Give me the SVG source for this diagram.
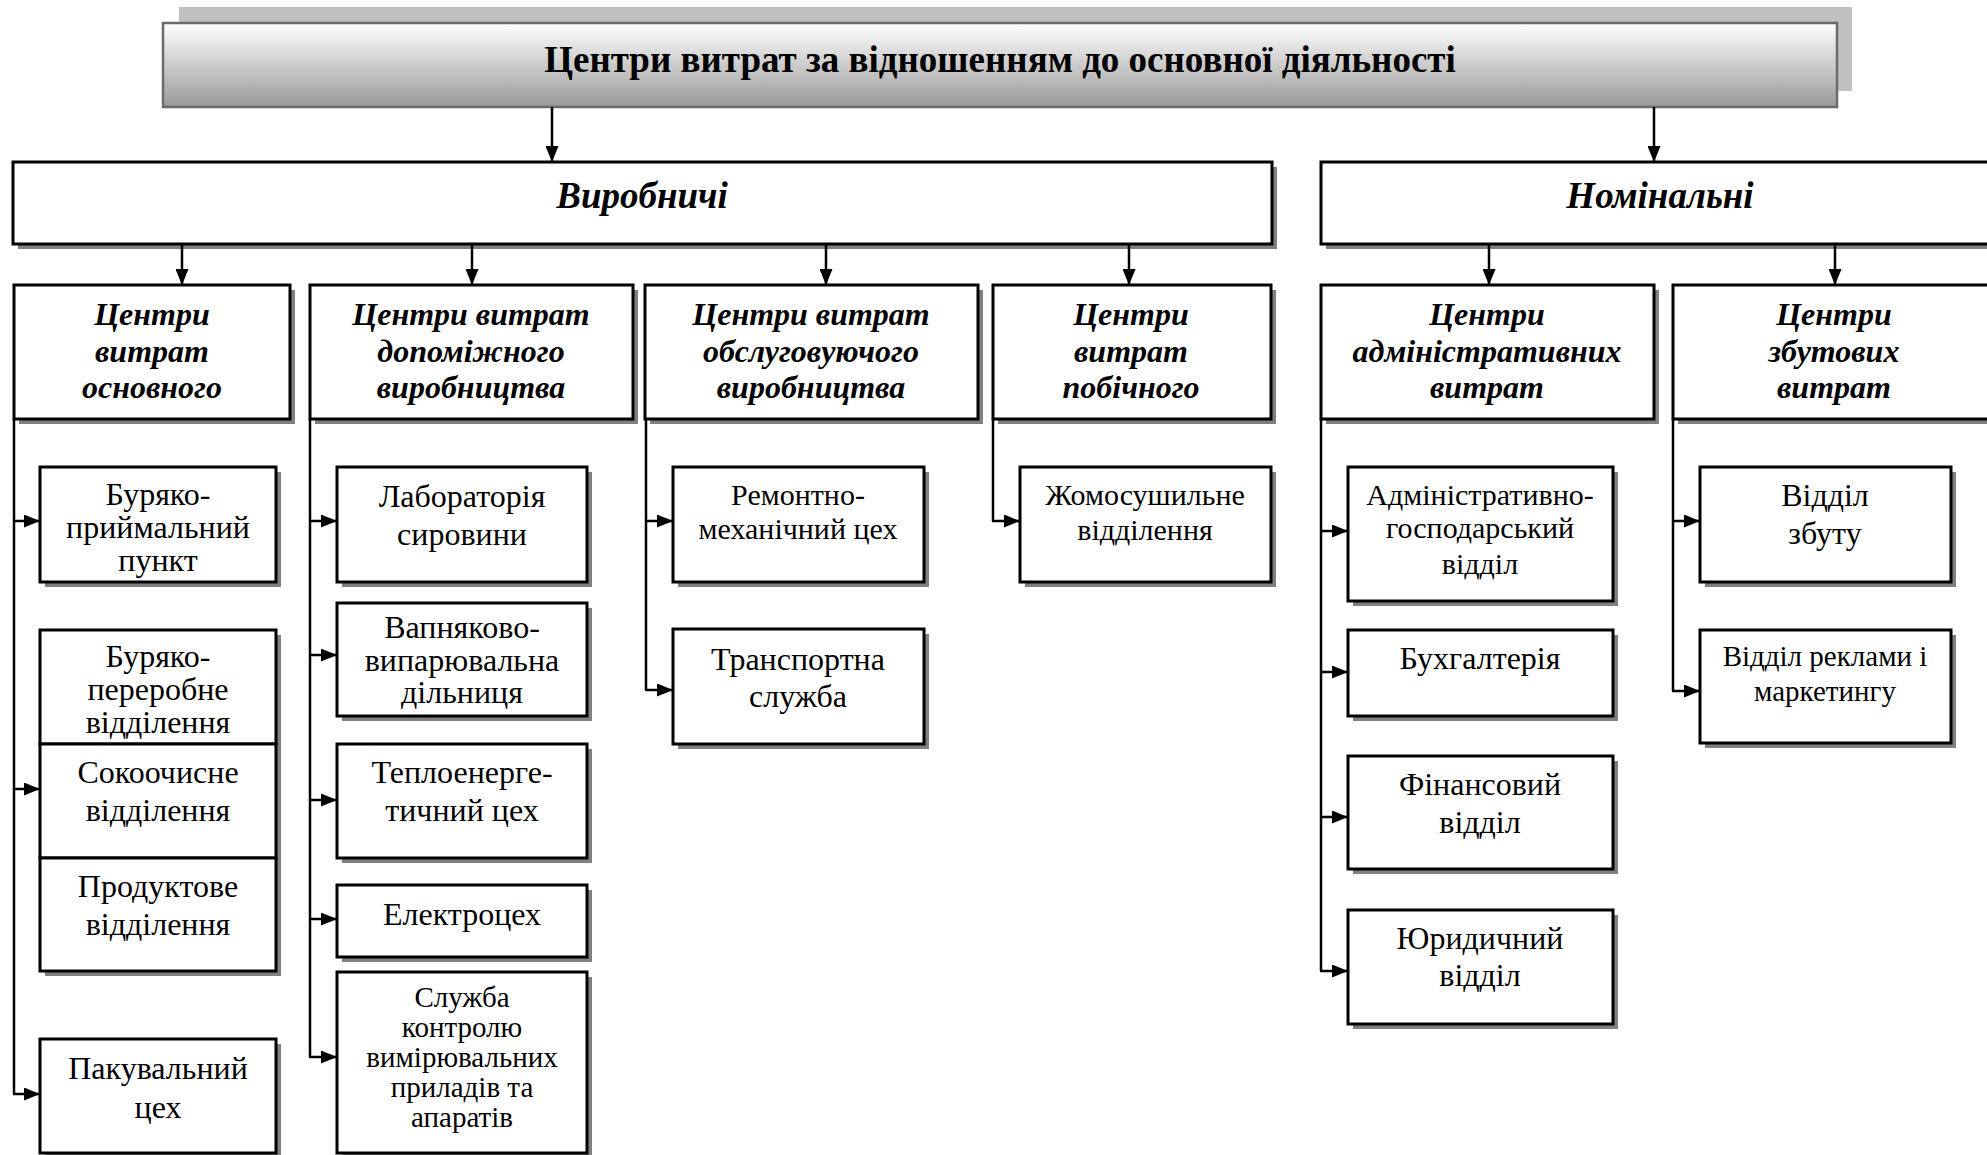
<svg xmlns="http://www.w3.org/2000/svg" width="1987" height="1155" viewBox="0 0 1987 1155">
<style>
.sh{fill:#808080}
.bx{fill:#fff;stroke:#000;stroke-width:3}
.ln{fill:none;stroke:#000;stroke-width:2.5}
.ar{fill:none;stroke:#000;stroke-width:2.5;marker-end:url(#ah)}
text{font-family:"Liberation Serif","Times New Roman",serif;text-anchor:middle;fill:#000}
.t0{font-size:37px;font-weight:bold}
.t1{font-size:37px;font-weight:bold;font-style:italic}
.t2{font-size:32px;font-weight:bold;font-style:italic}
.l{font-size:32px}
.s{font-size:30px}
.xs{font-size:29px}
</style>
<defs>
<linearGradient id="g" x1="0" y1="0" x2="0" y2="1">
<stop offset="0" stop-color="#ffffff"/>
<stop offset="1" stop-color="#999999"/>
</linearGradient>
<marker id="ah" markerUnits="userSpaceOnUse" markerWidth="16" markerHeight="13" refX="16" refY="6.5" orient="auto">
<path d="M0,0 L16,6.5 L0,13 z" fill="#000"/>
</marker>
</defs>
<rect width="1987" height="1155" fill="#fff"/>

<g id="title">
<rect x="179" y="7" width="1673" height="84" fill="#c0c0c0"/>
<rect x="163" y="23" width="1674" height="84" fill="url(#g)" stroke="#6b6b6b" stroke-width="2.5"/>
<text class="t0" x="1000" y="72">Центри витрат за відношенням до основної діяльності</text>
</g>

<g id="vyrobnychi">
<rect class="sh" x="18" y="167" width="1259" height="82"/>
<rect class="bx" x="13" y="162" width="1259" height="82"/>
<text class="t1" x="642" y="208">Виробничі</text>
</g>
<g id="nominalni">
<rect class="sh" x="1326" y="167" width="680" height="82"/>
<rect class="bx" x="1321" y="162" width="680" height="82"/>
<text class="t1" x="1660" y="208">Номінальні</text>
</g>

<g id="c1">
<rect class="sh" x="19" y="290" width="276" height="134"/>
<rect class="bx" x="14" y="285" width="276" height="134"/>
<text class="t2" x="152"><tspan x="152" y="325">Центри</tspan><tspan x="152" y="362">витрат</tspan><tspan x="152" y="398">основного</tspan></text>
</g>
<g id="c2">
<rect class="sh" x="315" y="290" width="323" height="134"/>
<rect class="bx" x="310" y="285" width="323" height="134"/>
<text class="t2" x="471"><tspan x="471" y="325">Центри витрат</tspan><tspan x="471" y="362">допоміжного</tspan><tspan x="471" y="398">виробництва</tspan></text>
</g>
<g id="c3">
<rect class="sh" x="650" y="290" width="333" height="134"/>
<rect class="bx" x="645" y="285" width="333" height="134"/>
<text class="t2" x="811"><tspan x="811" y="325">Центри витрат</tspan><tspan x="811" y="362">обслуговуючого</tspan><tspan x="811" y="398">виробництва</tspan></text>
</g>
<g id="c4">
<rect class="sh" x="998" y="290" width="278" height="134"/>
<rect class="bx" x="993" y="285" width="278" height="134"/>
<text class="t2" x="1131"><tspan x="1131" y="325">Центри</tspan><tspan x="1131" y="362">витрат</tspan><tspan x="1131" y="398">побічного</tspan></text>
</g>
<g id="c5">
<rect class="sh" x="1326" y="290" width="333" height="134"/>
<rect class="bx" x="1321" y="285" width="333" height="134"/>
<text class="t2" x="1487"><tspan x="1487" y="325">Центри</tspan><tspan x="1487" y="362">адміністративних</tspan><tspan x="1487" y="398">витрат</tspan></text>
</g>
<g id="c6">
<rect class="sh" x="1678" y="290" width="330" height="134"/>
<rect class="bx" x="1673" y="285" width="330" height="134"/>
<text class="t2" x="1834"><tspan x="1834" y="325">Центри</tspan><tspan x="1834" y="362">збутових</tspan><tspan x="1834" y="398">витрат</tspan></text>
</g>

<g id="col1">
<g id="n-buriako-pryimalnyi">
<rect class="sh" x="45" y="472" width="236" height="115"/>
<rect class="bx" x="40" y="467" width="236" height="115"/>
<text class="l"><tspan x="158" y="505">Буряко-</tspan><tspan x="158" y="538">приймальний</tspan><tspan x="158" y="571">пункт</tspan></text>
</g>
<g id="n-stack">
<rect class="sh" x="45" y="635" width="236" height="341"/>
<g id="n-buriako-pererobne">
<rect class="bx" x="40" y="630" width="236" height="114"/>
<text class="l"><tspan x="158" y="667">Буряко-</tspan><tspan x="158" y="700">переробне</tspan><tspan x="158" y="733">відділення</tspan></text>
</g>
<g id="n-sokoochysne">
<rect class="bx" x="40" y="744" width="236" height="114"/>
<text class="l"><tspan x="158" y="783">Сокоочисне</tspan><tspan x="158" y="821">відділення</tspan></text>
</g>
<g id="n-produktove">
<rect class="bx" x="40" y="858" width="236" height="113"/>
<text class="l"><tspan x="158" y="897">Продуктове</tspan><tspan x="158" y="935">відділення</tspan></text>
</g>
</g>
<g id="n-pakuvalnyi">
<rect class="sh" x="45" y="1044" width="236" height="115"/>
<rect class="bx" x="40" y="1039" width="236" height="114"/>
<text class="l"><tspan x="158" y="1079">Пакувальний</tspan><tspan x="158" y="1118">цех</tspan></text>
</g>
</g>

<g id="col2">
<g id="n-laboratoriia">
<rect class="sh" x="342" y="472" width="250" height="115"/>
<rect class="bx" x="337" y="467" width="250" height="115"/>
<text class="l"><tspan x="462" y="507">Лабораторія</tspan><tspan x="462" y="545">сировини</tspan></text>
</g>
<g id="n-vapniakovo">
<rect class="sh" x="342" y="608" width="250" height="113"/>
<rect class="bx" x="337" y="603" width="250" height="113"/>
<text class="l"><tspan x="462" y="638">Вапняково-</tspan><tspan x="462" y="671">випарювальна</tspan><tspan x="462" y="703">дільниця</tspan></text>
</g>
<g id="n-teploenerg">
<rect class="sh" x="342" y="749" width="250" height="114"/>
<rect class="bx" x="337" y="744" width="250" height="114"/>
<text class="l"><tspan x="462" y="783">Теплоенерге-</tspan><tspan x="462" y="821">тичний цех</tspan></text>
</g>
<g id="n-electro">
<rect class="sh" x="342" y="890" width="250" height="72"/>
<rect class="bx" x="337" y="885" width="250" height="72"/>
<text class="l" x="462" y="925">Електроцех</text>
</g>
<g id="n-sluzhba">
<rect class="sh" x="342" y="977" width="250" height="185"/>
<rect class="bx" x="337" y="972" width="250" height="181"/>
<text class="xs"><tspan x="462" y="1007">Служба</tspan><tspan x="462" y="1037">контролю</tspan><tspan x="462" y="1067">вимірювальних</tspan><tspan x="462" y="1097">приладів та</tspan><tspan x="462" y="1127">апаратів</tspan></text>
</g>
</g>

<g id="col3">
<g id="n-remontno">
<rect class="sh" x="678" y="472" width="251" height="115"/>
<rect class="bx" x="673" y="467" width="251" height="115"/>
<text class="s"><tspan x="798" y="505">Ремонтно-</tspan><tspan x="798" y="539">механічний цех</tspan></text>
</g>
<g id="n-transport">
<rect class="sh" x="678" y="634" width="251" height="115"/>
<rect class="bx" x="673" y="629" width="251" height="115"/>
<text class="l"><tspan x="798" y="670">Транспортна</tspan><tspan x="798" y="707">служба</tspan></text>
</g>
</g>

<g id="col4">
<g id="n-zhomo">
<rect class="sh" x="1025" y="472" width="251" height="115"/>
<rect class="bx" x="1020" y="467" width="251" height="115"/>
<text class="s"><tspan x="1145" y="505">Жомосушильне</tspan><tspan x="1145" y="540">відділення</tspan></text>
</g>
</g>

<g id="col5">
<g id="n-admin">
<rect class="sh" x="1353" y="472" width="265" height="134"/>
<rect class="bx" x="1348" y="467" width="265" height="134"/>
<text class="s"><tspan x="1480" y="505">Адміністративно-</tspan><tspan x="1480" y="538">господарський</tspan><tspan x="1480" y="574">відділ</tspan></text>
</g>
<g id="n-buh">
<rect class="sh" x="1353" y="635" width="265" height="86"/>
<rect class="bx" x="1348" y="630" width="265" height="86"/>
<text class="l" x="1480" y="669">Бухгалтерія</text>
</g>
<g id="n-fin">
<rect class="sh" x="1353" y="761" width="265" height="113"/>
<rect class="bx" x="1348" y="756" width="265" height="113"/>
<text class="l"><tspan x="1480" y="795">Фінансовий</tspan><tspan x="1480" y="833">відділ</tspan></text>
</g>
<g id="n-yur">
<rect class="sh" x="1353" y="915" width="265" height="114"/>
<rect class="bx" x="1348" y="910" width="265" height="114"/>
<text class="l"><tspan x="1480" y="949">Юридичний</tspan><tspan x="1480" y="986">відділ</tspan></text>
</g>
</g>

<g id="col6">
<g id="n-zbut">
<rect class="sh" x="1705" y="472" width="251" height="115"/>
<rect class="bx" x="1700" y="467" width="251" height="115"/>
<text class="l"><tspan x="1825" y="506">Відділ</tspan><tspan x="1825" y="544">збуту</tspan></text>
</g>
<g id="n-reklama">
<rect class="sh" x="1705" y="635" width="251" height="113"/>
<rect class="bx" x="1700" y="630" width="251" height="113"/>
<text class="xs"><tspan x="1825" y="666">Відділ реклами і</tspan><tspan x="1825" y="701">маркетингу</tspan></text>
</g>
</g>

<g id="connectors">
<line class="ar" x1="552" y1="107" x2="552" y2="162"/>
<line class="ar" x1="1654" y1="107" x2="1654" y2="162"/>
<line class="ar" x1="182" y1="244" x2="182" y2="285"/>
<line class="ar" x1="472" y1="244" x2="472" y2="285"/>
<line class="ar" x1="826" y1="244" x2="826" y2="285"/>
<line class="ar" x1="1129" y1="244" x2="1129" y2="285"/>
<line class="ar" x1="1489" y1="244" x2="1489" y2="285"/>
<line class="ar" x1="1835" y1="244" x2="1835" y2="285"/>

<line class="ln" x1="14" y1="419" x2="14" y2="1094"/>
<line class="ar" x1="13" y1="521" x2="40" y2="521"/>
<line class="ar" x1="13" y1="789" x2="40" y2="789"/>
<line class="ar" x1="13" y1="1094" x2="40" y2="1094"/>

<line class="ln" x1="310" y1="419" x2="310" y2="1057"/>
<line class="ar" x1="309" y1="521" x2="337" y2="521"/>
<line class="ar" x1="309" y1="655" x2="337" y2="655"/>
<line class="ar" x1="309" y1="800" x2="337" y2="800"/>
<line class="ar" x1="309" y1="919" x2="337" y2="919"/>
<line class="ar" x1="309" y1="1057" x2="337" y2="1057"/>

<line class="ln" x1="646" y1="419" x2="646" y2="690"/>
<line class="ar" x1="645" y1="521" x2="673" y2="521"/>
<line class="ar" x1="645" y1="690" x2="673" y2="690"/>

<line class="ln" x1="993" y1="419" x2="993" y2="521"/>
<line class="ar" x1="992" y1="521" x2="1020" y2="521"/>

<line class="ln" x1="1321" y1="419" x2="1321" y2="971"/>
<line class="ar" x1="1320" y1="531" x2="1348" y2="531"/>
<line class="ar" x1="1320" y1="672" x2="1348" y2="672"/>
<line class="ar" x1="1320" y1="817" x2="1348" y2="817"/>
<line class="ar" x1="1320" y1="971" x2="1348" y2="971"/>

<line class="ln" x1="1673" y1="419" x2="1673" y2="691"/>
<line class="ar" x1="1672" y1="521" x2="1700" y2="521"/>
<line class="ar" x1="1672" y1="691" x2="1700" y2="691"/>
</g>
</svg>
